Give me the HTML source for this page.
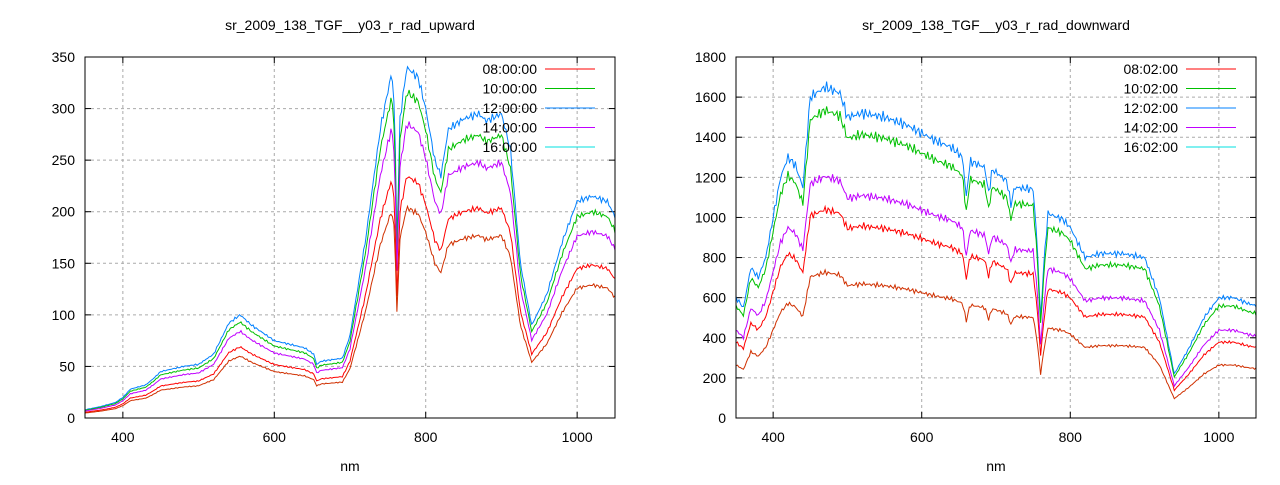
<!DOCTYPE html>
<html><head><meta charset="utf-8"><style>
body{margin:0;background:#fff;width:1280px;height:480px;overflow:hidden}
text{font-family:"Liberation Sans",sans-serif;font-size:14px;fill:#000}
</style></head><body>
<svg id="s" width="1280" height="480" xmlns="http://www.w3.org/2000/svg"></svg>
<script>
const S=document.getElementById('s');let h='';
const up=[[350,8],[370,11],[390,15],[400,20],[410,28],[430,32],[440,38],[450,45],[480,50],[500,52],[520,62],[540,92],[555,100],[570,90],[600,75],[640,68],[652,62],[656,52],[662,55],[690,58],[700,80],[720,170],[740,280],[755,335],[759,300],[762,170],[766,290],[775,340],[790,330],[800,300],[812,250],[820,235],[830,280],[850,290],[870,295],[880,288],[900,295],[912,260],[925,150],[940,90],[960,120],[980,170],[1000,210],[1020,215],[1040,210],[1050,195]];
const dn=[[350,600],[360,550],[370,750],[380,700],[390,800],[400,1000],[410,1200],[420,1300],[430,1260],[440,1150],[450,1600],[470,1650],[490,1620],[500,1500],[520,1520],[550,1500],[580,1460],[600,1420],[620,1380],[640,1350],[655,1300],[660,1100],[665,1280],[685,1250],[690,1120],[695,1240],[715,1180],[720,1060],[725,1150],[750,1140],[755,900],[760,500],[765,800],[770,1020],[790,990],[800,950],[820,800],[840,820],[870,820],[900,800],[920,600],[940,220],[960,350],[980,500],[1000,600],[1020,600],[1040,570],[1050,560]];
function interp(k,x){for(let i=1;i<k.length;i++){if(x<=k[i][0]){const a=k[i-1],b=k[i];return a[1]+(b[1]-a[1])*(x-a[0])/(b[0]-a[0]);}}return k[k.length-1][1];}
function chart(x0,x1,y0,y1,ymax,ystep,title,keys,scales,leg,noise){
 const X=v=>x0+(v-350)*(x1-x0)/700,Y=v=>y1-v*(y1-y0)/ymax;
 for(let v=0;v<=ymax;v+=ystep){const y=Y(v);
  if(v>0&&v<ymax)h+=`<line x1="${x0}" x2="${x1}" y1="${y}" y2="${y}" stroke="#aaa" stroke-dasharray="3,3"/>`;
  h+=`<line x1="${x0}" x2="${x0+6}" y1="${y}" y2="${y}" stroke="#000"/><line x1="${x1}" x2="${x1-6}" y1="${y}" y2="${y}" stroke="#000"/>`;
  h+=`<text x="${x0-10}" y="${y+5}" text-anchor="end">${v}</text>`;}
 for(let v=400;v<=1000;v+=200){const x=X(v);
  h+=`<line x1="${x}" x2="${x}" y1="${y0}" y2="${y1}" stroke="#aaa" stroke-dasharray="3,3"/>`;
  h+=`<line x1="${x}" x2="${x}" y1="${y1}" y2="${y1-6}" stroke="#000"/><line x1="${x}" x2="${x}" y1="${y0}" y2="${y0+6}" stroke="#000"/>`;
  h+=`<text x="${x}" y="${y1+24}" text-anchor="middle">${v}</text>`;}
 const cols=['#0080ff','#00c000','#c000ff','#ff0000','#d03000'];
 scales.forEach((sc,j)=>{let p=[];for(let v=350;v<=1050;v+=2){let n=interp(keys,v)*sc*(1+noise*Math.sin(v*1.7+j)*Math.sin(v*0.37));p.push(X(v).toFixed(1)+','+Math.max(y0,Y(n)).toFixed(1));}
  h+=`<polyline points="${p.join(' ')}" fill="none" stroke="${cols[j]}" stroke-width="1"/>`;});
 const lc=['#ff0000','#00c000','#0080ff','#c000ff','#00e0e0'];
 leg.forEach((t,i)=>{const y=y0+12+i*19.5;h+=`<text x="${x1-78}" y="${y+5}" text-anchor="end">${t}</text><line x1="${x1-70}" x2="${x1-20}" y1="${y}" y2="${y}" stroke="${lc[i]}"/>`;});
 h+=`<rect x="${x0}" y="${y0}" width="${x1-x0}" height="${y1-y0}" fill="none" stroke="#000"/>`;
 h+=`<text x="${(x0+x1)/2}" y="30" text-anchor="middle">${title}</text><text x="${(x0+x1)/2}" y="471" text-anchor="middle">nm</text>`;
}
chart(85,615,57,418,350,50,'sr_2009_138_TGF__y03_r_rad_upward',up,[1,0.93,0.84,0.69,0.6],['08:00:00','10:00:00','12:00:00','14:00:00','16:00:00'],0.015);
chart(736,1256,57,418,1800,200,'sr_2009_138_TGF__y03_r_rad_downward',dn,[1,0.93,0.73,0.63,0.44],['08:02:00','10:02:00','12:02:00','14:02:00','16:02:00'],0.02);
S.innerHTML=h;
</script>
</body></html>
